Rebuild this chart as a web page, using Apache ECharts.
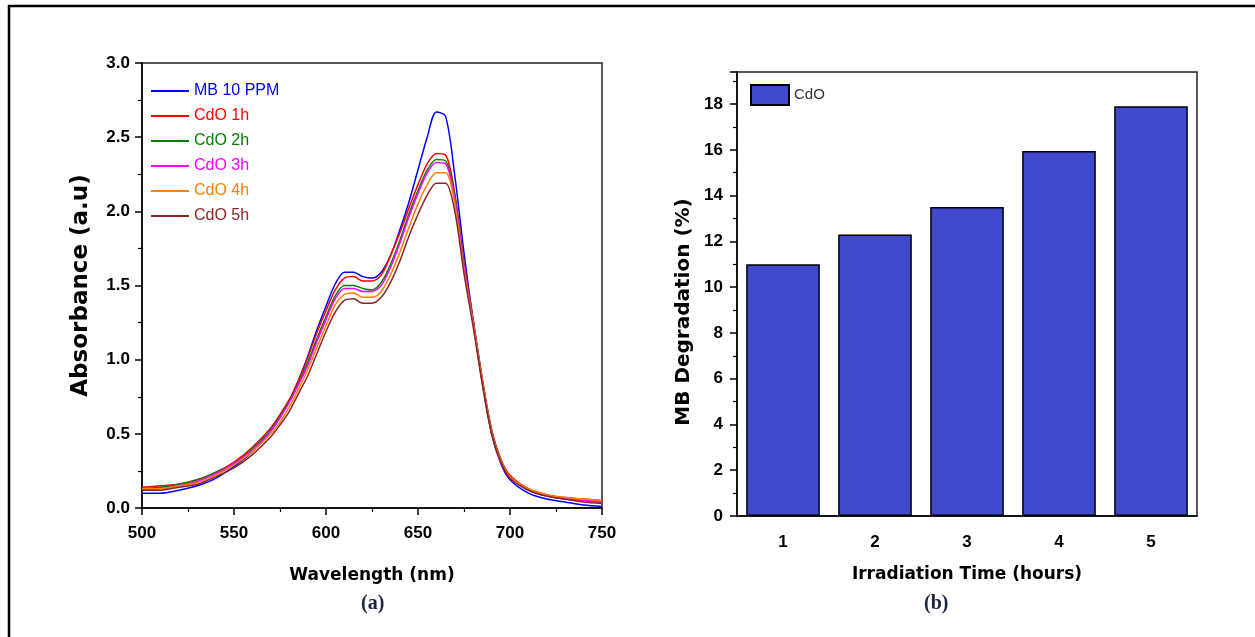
<!DOCTYPE html>
<html>
<head>
<meta charset="utf-8">
<title>CdO photocatalysis</title>
<script src="https://cdn.jsdelivr.net/npm/echarts@6/dist/echarts.min.js"></script>
<style>
  html, body { margin: 0; padding: 0; background: #fff; }
  #main { width: 1255px; height: 637px; }
</style>
</head>
<body>
<div id="main"></div>
<script>
// wavelength grid (nm)
var wavelength = [500, 510, 520, 530, 540, 550, 560, 570, 575, 580, 585, 590, 595, 600, 605, 610, 615, 620, 625, 630,
  635, 640, 645, 650, 655, 660, 665, 670, 675, 680, 685, 690, 695, 700, 710, 720, 730, 740, 750];

// absorbance values
var mb10 = [0.10, 0.10, 0.12, 0.15, 0.20, 0.28, 0.38, 0.52, 0.61, 0.72, 0.86, 1.02, 1.20, 1.36, 1.51, 1.59, 1.59, 1.56, 1.55, 1.59,
  1.70, 1.87, 2.06, 2.28, 2.50, 2.67, 2.64, 2.24, 1.72, 1.26, 0.84, 0.50, 0.30, 0.19, 0.10, 0.06, 0.04, 0.02, 0.01];
var cdo1h = [0.14, 0.15, 0.16, 0.19, 0.24, 0.31, 0.41, 0.54, 0.63, 0.73, 0.86, 1.01, 1.18, 1.33, 1.47, 1.55, 1.56, 1.53, 1.53, 1.57,
  1.70, 1.85, 2.02, 2.18, 2.32, 2.39, 2.38, 2.12, 1.66, 1.27, 0.87, 0.53, 0.33, 0.22, 0.13, 0.09, 0.07, 0.06, 0.05];
var cdo2h = [0.13, 0.14, 0.16, 0.19, 0.24, 0.30, 0.40, 0.53, 0.62, 0.72, 0.84, 0.98, 1.14, 1.29, 1.43, 1.50, 1.50, 1.48, 1.47, 1.52,
  1.64, 1.80, 1.98, 2.14, 2.28, 2.35, 2.34, 2.10, 1.64, 1.26, 0.86, 0.52, 0.32, 0.21, 0.12, 0.08, 0.06, 0.05, 0.04];
var cdo3h = [0.12, 0.13, 0.15, 0.18, 0.23, 0.30, 0.39, 0.52, 0.61, 0.71, 0.83, 0.96, 1.12, 1.27, 1.41, 1.48, 1.48, 1.46, 1.46, 1.50,
  1.62, 1.78, 1.96, 2.12, 2.26, 2.33, 2.32, 2.08, 1.63, 1.25, 0.85, 0.51, 0.31, 0.21, 0.12, 0.08, 0.06, 0.05, 0.04];
var cdo4h = [0.13, 0.13, 0.15, 0.17, 0.22, 0.29, 0.38, 0.50, 0.58, 0.68, 0.80, 0.93, 1.08, 1.23, 1.37, 1.44, 1.45, 1.42, 1.42, 1.46,
  1.57, 1.72, 1.89, 2.05, 2.18, 2.26, 2.26, 2.05, 1.60, 1.24, 0.85, 0.51, 0.32, 0.21, 0.13, 0.09, 0.07, 0.06, 0.05];
var cdo5h = [0.12, 0.12, 0.14, 0.16, 0.21, 0.27, 0.36, 0.48, 0.56, 0.65, 0.77, 0.89, 1.04, 1.19, 1.32, 1.40, 1.41, 1.38, 1.38, 1.42,
  1.52, 1.66, 1.83, 1.98, 2.11, 2.19, 2.19, 2.00, 1.58, 1.22, 0.83, 0.50, 0.31, 0.20, 0.12, 0.08, 0.06, 0.04, 0.03];

var lineNames = ['MB 10 PPM', 'CdO 1h', 'CdO 2h', 'CdO 3h', 'CdO 4h', 'CdO 5h'];
var lineColors = ['#0000ff', '#ff0000', '#008000', '#ff00ff', '#ff8000', '#8b2525'];
var lineValues = [mb10, cdo1h, cdo2h, cdo3h, cdo4h, cdo5h];

// panel (b)
var hours = ['1', '2', '3', '4', '5'];
var degradation = [11.0, 12.3, 13.5, 15.95, 17.9];

var chart = echarts.init(document.getElementById('main'), null, { renderer: 'canvas' });

var tickFont = { color: '#000', fontFamily: 'Liberation Sans', fontWeight: 'bold', fontSize: 17 };
var titleFont = { color: '#000', fontFamily: 'DejaVu Sans', fontWeight: 'bold', fontSize: 17 };

// 线条系列
var lineSeries = lineNames.map(function (name, i) {
  return {
    name: name,
    type: 'line',
    xAxisIndex: 0,
    yAxisIndex: 0,
    smooth: 0.3,
    symbol: 'none',
    lineStyle: { width: 1.5, color: lineColors[i] },
    itemStyle: { color: lineColors[i] },
    data: wavelength.map(function (w, j) { return [w, lineValues[i][j]]; })
  };
});

var option = {
  backgroundColor: '#fff',
  animation: false,
  grid: [
    { left: 142, top: 63, width: 460, height: 445, show: true, borderColor: '#222', borderWidth: 1.5 },
    { left: 737, top: 72, width: 460, height: 444, show: true, borderColor: '#222', borderWidth: 1.5 }
  ],
  legend: [
    {
      orient: 'vertical',
      left: 151,
      top: 83,
      padding: 0,
      icon: 'rect',
      itemWidth: 38,
      itemHeight: 2,
      itemGap: 9,
      textStyle: { fontFamily: 'Liberation Sans', fontSize: 16 },
      data: lineNames.map(function (n, i) {
        return { name: n, textStyle: { color: lineColors[i] } };
      })
    },
    {
      left: 750,
      top: 84,
      padding: 0,
      itemWidth: 38,
      itemHeight: 20,
      icon: 'rect',
      textStyle: { fontFamily: 'Liberation Sans', fontSize: 15, color: '#333' },
      data: ['CdO']
    }
  ],
  xAxis: [
    {
      type: 'value', gridIndex: 0, min: 500, max: 750, interval: 50,
      name: 'Wavelength (nm)', nameLocation: 'middle', nameGap: 59, nameTextStyle: titleFont,
      axisLine: { lineStyle: { color: '#000', width: 1.5 } },
      axisTick: { length: 7, lineStyle: { color: '#000', width: 1.5 } },
      minorTick: { show: true, splitNumber: 2, length: 4, lineStyle: { color: '#000', width: 1.2 } },
      axisLabel: Object.assign({ margin: 17 }, tickFont),
      splitLine: { show: false }
    },
    {
      type: 'category', gridIndex: 1, data: hours,
      name: 'Irradiation Time (hours)', nameLocation: 'middle', nameGap: 50, nameTextStyle: titleFont,
      axisLine: { lineStyle: { color: '#000', width: 1.5 } },
      axisTick: { alignWithLabel: true, length: 7, lineStyle: { color: '#000', width: 1.5 } },
      axisLabel: Object.assign({ margin: 18 }, tickFont),
      splitLine: { show: false }
    },
    {
      // 柱子之间的小刻度
      type: 'category', gridIndex: 1, data: hours,
      axisLine: { show: false },
      axisTick: { length: 4, lineStyle: { color: '#000', width: 1.2 } },
      axisLabel: { show: false },
      splitLine: { show: false }
    }
  ],
  yAxis: [
    {
      type: 'value', gridIndex: 0, min: 0, max: 3, interval: 0.5,
      name: 'Absorbance (a.u)', nameLocation: 'middle', nameGap: 49,
      nameTextStyle: Object.assign({}, titleFont, { fontSize: 23 }),
      axisLine: { show: true, lineStyle: { color: '#000', width: 1.5 } },
      axisTick: { show: true, length: 7, lineStyle: { color: '#000', width: 1.5 } },
      minorTick: { show: true, splitNumber: 2, length: 4, lineStyle: { color: '#000', width: 1.2 } },
      axisLabel: Object.assign({ margin: 12, formatter: function (v) { return v.toFixed(1); } }, tickFont),
      splitLine: { show: false }
    },
    {
      type: 'value', gridIndex: 1, min: 0, max: 19.4, interval: 2,
      axisLine: { show: true, lineStyle: { color: '#000', width: 1.5 } },
      axisTick: { show: true, length: 7, lineStyle: { color: '#000', width: 1.5 } },
      minorTick: { show: true, splitNumber: 2, length: 4, lineStyle: { color: '#000', width: 1.2 } },
      axisLabel: Object.assign({ margin: 14, showMaxLabel: false }, tickFont),
      splitLine: { show: false }
    }
  ],
  series: lineSeries.concat([
    {
      name: 'CdO',
      type: 'bar',
      xAxisIndex: 1,
      yAxisIndex: 1,
      barWidth: '80%',
      itemStyle: { color: '#4048cc', borderColor: '#000', borderWidth: 1.5 },
      data: degradation
    }
  ]),
  graphic: [
    {
      type: 'rect', silent: true,
      shape: { x: 9, y: 6, width: 1270, height: 660 },
      style: { fill: 'none', stroke: '#000', lineWidth: 2.5 }
    },
    {
      // y axis title of panel (b), sits a bit below the axis middle in the original
      type: 'text', x: 684, y: 312, rotation: Math.PI / 2,
      style: {
        text: 'MB Degradation (%)', fill: '#000', textAlign: 'center', textVerticalAlign: 'middle',
        font: 'bold 20px "DejaVu Sans"'
      }
    },
    {
      type: 'text', left: 361, top: 594,
      style: { text: '(a)', fill: '#1f2540', font: 'bold 20px "Liberation Serif"' }
    },
    {
      type: 'text', left: 924, top: 594,
      style: { text: '(b)', fill: '#1f2540', font: 'bold 20px "Liberation Serif"' }
    }
  ]
};

chart.setOption(option);
</script>
</body>
</html>
